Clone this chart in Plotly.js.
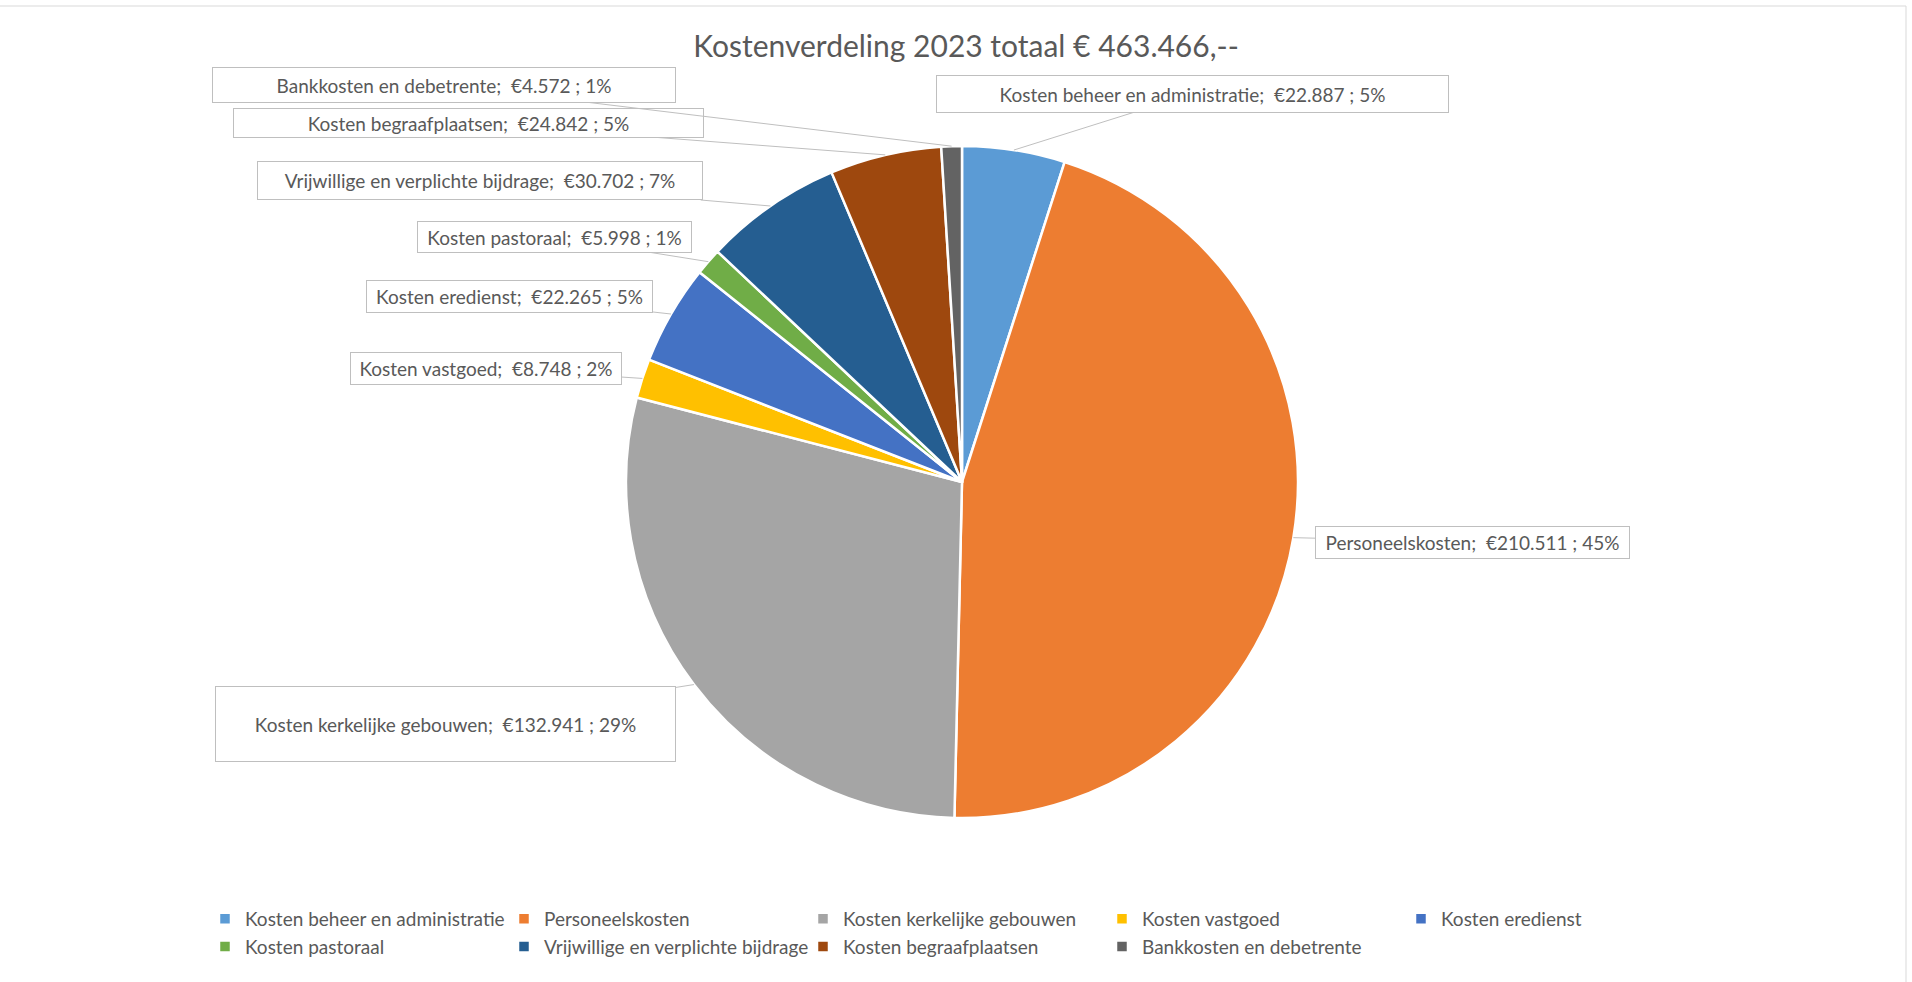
<!DOCTYPE html>
<html>
<head>
<meta charset="utf-8">
<script src="https://cdn.plot.ly/plotly-3.0.1.min.js"></script>
<style>html,body{margin:0;padding:0;background:#fff;}#chart{width:1912px;height:982px;}</style>
</head>
<body>
<div id="chart"></div>
<script>
// ---- data ----
const categories = [
  "Kosten beheer en administratie",
  "Personeelskosten",
  "Kosten kerkelijke gebouwen",
  "Kosten vastgoed",
  "Kosten eredienst",
  "Kosten pastoraal",
  "Vrijwillige en verplichte bijdrage",
  "Kosten begraafplaatsen",
  "Bankkosten en debetrente"
];
const values = [22887, 210511, 132941, 8748, 22265, 5998, 30702, 24842, 4572];
const sliceColors = ["#5B9BD5", "#ED7D31", "#A5A5A5", "#FFC000", "#4472C4", "#70AD47", "#255E91", "#9E480E", "#636363"];
const chartTitle = "Kostenverdeling 2023 totaal € 463.466,--";

// ---- layout (pixels) ----
const W = 1912, H = 982;
const ML = 150, MR = 150;           // side margins (plot area width limits legend rows)
const GW = W - ML - MR;
const pieCx = 962, pieCy = 482, pieR = 336;
// label box centres and sizes, in category order
const labelBoxes = [
  {cx: 1192, cy: 94,  w: 513, h: 38},
  {cx: 1472, cy: 542, w: 315, h: 33},
  {cx: 445,  cy: 724, w: 461, h: 76},
  {cx: 486,  cy: 368, w: 272, h: 33},
  {cx: 509,  cy: 296, w: 287, h: 33},
  {cx: 554,  cy: 237, w: 275, h: 32},
  {cx: 480,  cy: 181, w: 446, h: 39},
  {cx: 468,  cy: 123, w: 471, h: 30},
  {cx: 444,  cy: 85,  w: 464, h: 36}
];
const px2x = p => (p - ML) / GW;
const px2y = p => 1 - p / H;

const FONT = "Lato, 'Open Sans', sans-serif";
const TXT = "#595959";

function fmt(v) {
  return String(v).replace(/\B(?=(\d{3})+(?!\d))/g, ".");
}
const total = values.reduce((a, b) => a + b, 0);

const annotations = [];
let cum = 0;
values.forEach((v, i) => {
  const mid = (cum + v / 2) / total;
  cum += v;
  const ang = mid * 2 * Math.PI;
  const px = pieCx + pieR * Math.sin(ang);
  const py = pieCy - pieR * Math.cos(ang);
  const b = labelBoxes[i];
  annotations.push({
    x: px2x(px), y: px2y(py), xref: "paper", yref: "paper",
    ax: b.cx - px, ay: b.cy - py, axref: "pixel", ayref: "pixel",
    text: categories[i] + ";\u00a0 €" + fmt(v) + " ; " + Math.round(v / total * 100) + "%",
    showarrow: true, arrowhead: 0, arrowwidth: 1, arrowcolor: "#BFBFBF", standoff: 0,
    bordercolor: "#BFBFBF", borderwidth: 1, borderpad: 0, bgcolor: "#FFFFFF",
    width: b.w - 2, height: b.h - 2, align: "center", valign: "middle",
    font: {family: FONT, size: 19, color: TXT}
  });
});

const trace = {
  type: "pie",
  labels: categories,
  values: values,
  sort: false,
  direction: "clockwise",
  rotation: 0,
  textinfo: "none",
  hoverinfo: "label+value+percent",
  marker: {colors: sliceColors, line: {color: "#FFFFFF", width: 2.5}},
  domain: {
    x: [px2x(pieCx - pieR), px2x(pieCx + pieR)],
    y: [px2y(pieCy + pieR), px2y(pieCy - pieR)]
  }
};

const layout = {
  width: W, height: H,
  margin: {l: ML, r: MR, t: 0, b: 0},
  paper_bgcolor: "#FFFFFF",
  plot_bgcolor: "#FFFFFF",
  title: {
    text: chartTitle,
    font: {family: FONT, size: 30, color: TXT},
    x: 966 / W, xanchor: "center", xref: "container",
    y: 1 - 46 / H, yanchor: "middle", yref: "container"
  },
  showlegend: true,
  legend: {
    orientation: "h",
    x: px2x(205), xanchor: "left",
    y: px2y(900), yanchor: "top",
    entrywidth: 254, entrywidthmode: "pixels",
    font: {family: FONT, size: 19, color: TXT},
    bgcolor: "rgba(0,0,0,0)"
  },
  annotations: annotations,
  shapes: [{
    type: "rect", xref: "paper", yref: "paper",
    x0: px2x(-10), x1: px2x(1906), y0: px2y(992), y1: px2y(6),
    line: {color: "#D9D9D9", width: 1}, fillcolor: "rgba(0,0,0,0)", layer: "below"
  }]
};

Plotly.newPlot("chart", [trace], layout, {displayModeBar: false, staticPlot: false});
</script>
</body>
</html>
